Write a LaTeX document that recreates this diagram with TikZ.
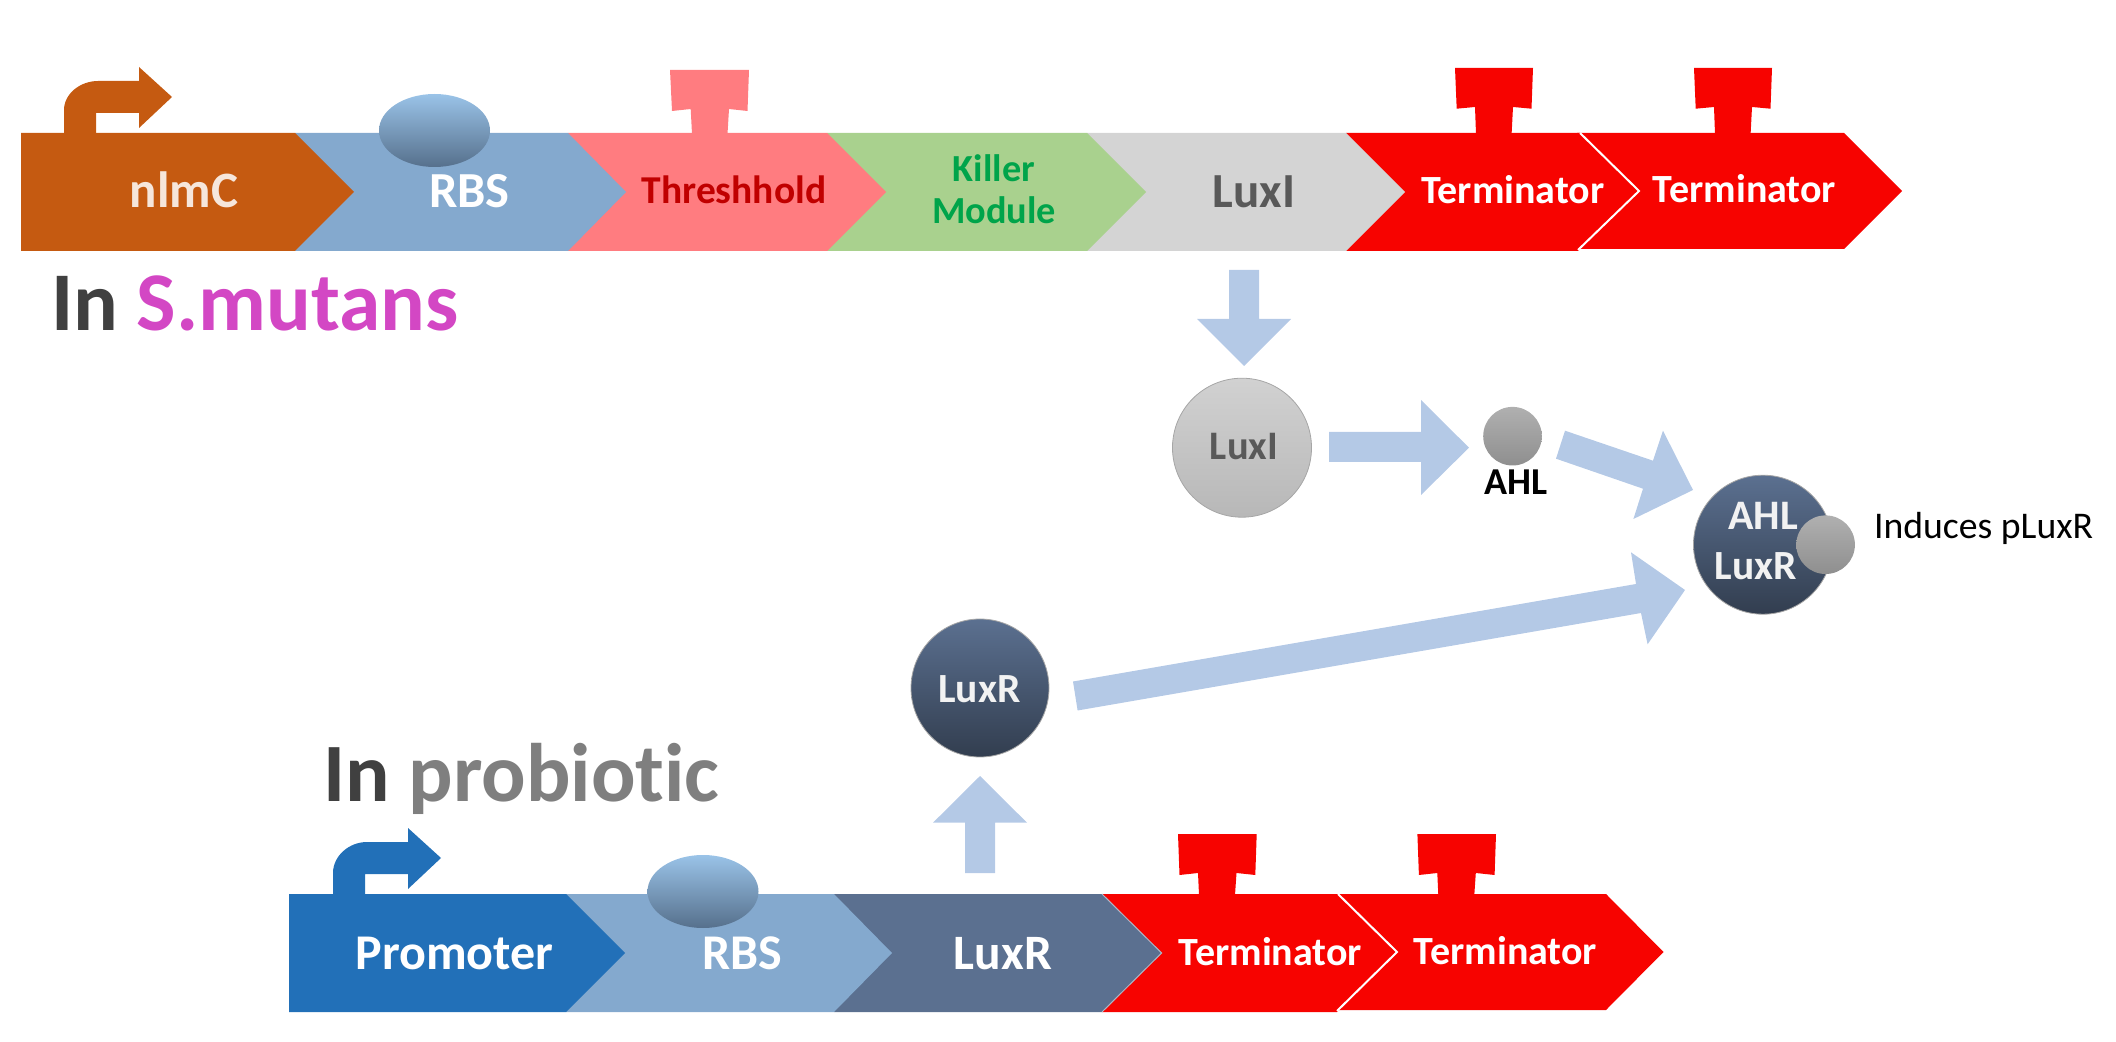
\documentclass[tikz,border=0pt]{standalone}
\usepackage{fontspec}
\usetikzlibrary{shapes.geometric}
\setmainfont[Ligatures=NoCommon]{Carlito}
\definecolor{cOrange}{HTML}{C55A11}
\definecolor{cRbs}{HTML}{84A9CE}
\definecolor{cPink}{HTML}{FF7C80}
\definecolor{cGreen}{HTML}{A9D18E}
\definecolor{cGrey}{HTML}{D4D4D4}
\definecolor{cRed}{HTML}{F70300}
\definecolor{cBlue}{HTML}{2270B8}
\definecolor{cSlate}{HTML}{5B7090}
\definecolor{cArrow}{HTML}{B4C9E6}
\definecolor{cKill}{HTML}{00A44A}
\definecolor{cThr}{HTML}{C00000}
\definecolor{cLux}{HTML}{595959}
\definecolor{cMag}{HTML}{D347C4}
\definecolor{cIn}{HTML}{404040}
\definecolor{cProb}{HTML}{7F7F7F}
\definecolor{cRiboTop}{HTML}{9AC3E8}
\definecolor{cRiboBot}{HTML}{56708C}
\newcommand{\fpx}[1]{\fontsize{\dimexpr#1pt/2\relax}{\dimexpr#1pt/2\relax}\selectfont}
\tikzset{
  lbl/.style={inner sep=0pt,outer sep=0pt,anchor=base,font=\bfseries},
  dot/.style={circle,inner sep=0pt,outer sep=0pt,minimum size=#1*0.5pt},
  dark/.style={draw=black!35!white,line width=0.4pt,top color=cSlate,bottom color=black!45!cSlate},
  lgrey/.style={draw=black!35!white,line width=0.4pt,top color=black!18,bottom color=black!28},
  mgrey/.style={top color=black!31,bottom color=black!44},
  ribo/.style={ellipse,inner sep=0pt,outer sep=0pt,minimum width=55.5pt,minimum height=36.5pt,top color=cRiboTop,bottom color=cRiboBot},
  sep/.style={draw=white,line width=1pt},
}
\begin{document}
\begin{tikzpicture}[x=0.5pt,y=-0.5pt]
\useasboundingbox (0,0) rectangle (2116,1042);
% top construct, right to left so each tip lies over the next notch
\fill[cRed] (1577,133)--(1844,133)--(1902,191)--(1844,249)--(1577,249)--cycle;
\fill[cRed] (1346,133)--(1580,133)--(1639,191)--(1578,251)--(1346,251)--cycle;
\draw[sep] (1580,133)--(1639,191)--(1578,250);
\fill[cGrey] (1087,133)--(1346,133)--(1405,192)--(1346,251)--(1087,251)--cycle;
\fill[cGreen] (827,133)--(1087,133)--(1146,192)--(1087,251)--(827,251)--cycle;
\fill[cPink] (568,133)--(827,133)--(886,192)--(827,251)--(568,251)--cycle;
\fill[cRbs] (295,133)--(568,133)--(626,192)--(568,251)--(295,251)--cycle;
\fill[cOrange] (21,133)--(295,133)--(354,192)--(295,251)--(21,251)--cycle;
% promoter arrow
\fill[cOrange] (64,134)--(64,110) .. controls (64,94) and (80,81) .. (98,81)--(139,81)--(139,67)--(172,97)--(139,128)--(139,113)--(96,113)--(96,134)--cycle;
% terminator caps
\fill[cPink] (670,70)--(749,70)--(747.5,111)--(729,109)--(727.5,134)--(692,134)--(690.7,109)--(672,111)--cycle;
\fill[cRed] (1455,68)--(1533,68)--(1531.5,108.7)--(1513,107)--(1511.6,134)--(1476,134)--(1475,107)--(1456.7,108.7)--cycle;
\fill[cRed] (1694,68)--(1772,68)--(1770.5,108.7)--(1752,107)--(1750.6,134)--(1715,134)--(1714,107)--(1695.7,108.7)--cycle;
\node[ribo] (rbsA) at (434.5,130.5) {};

% bottom construct
\fill[cRed] (1336,894)--(1606,894)--(1663.5,952)--(1606,1010)--(1336,1010)--cycle;
\fill[cRed] (1102,894)--(1338,894)--(1397,952)--(1337,1012)--(1102,1012)--cycle;
\draw[sep] (1338,894)--(1397,952)--(1337,1011);
\fill[cSlate] (834,894)--(1102,894)--(1161.6,953)--(1102,1012)--(834,1012)--cycle;
\draw[cSlate!50!white,line width=0.5pt] (1102,894)--(1161.6,953)--(1102,1012);
\fill[cRbs] (566,894)--(834,894)--(892,953)--(834,1012)--(566,1012)--cycle;
\fill[cBlue] (289,894)--(566,894)--(625,953)--(566,1012)--(289,1012)--cycle;
\fill[cBlue] (333,895)--(333,873) .. controls (333,856) and (349,842) .. (367,842)--(408,842)--(408,828)--(441,858)--(408,889)--(408,874)--(365,874)--(365,895)--cycle;
\fill[cRed] (1178,834)--(1256.7,834)--(1255.3,875)--(1236.5,873)--(1235,895)--(1199,895)--(1198,873)--(1179.5,875)--cycle;
\fill[cRed] (1417.4,834)--(1496,834)--(1494.6,875)--(1475.8,873)--(1474.3,895)--(1438.3,895)--(1437.3,873)--(1418.9,875)--cycle;
\node[ribo] (rbsB) at (703,891.5) {};

% molecules
\node[dot=139,lgrey] (luxI) at (1242,447.7) {};
\node[dot=58.6,mgrey] (ahl) at (1512.5,436.2) {};
\node[dot=139,dark] (cplx) at (1763,544.7) {};
\node[dot=58.6,mgrey] (ahlB) at (1825.6,544.7) {};
\node[dot=138,dark] (luxR) at (980,688) {};

% block arrows
\fill[cArrow] (1229,270)--(1259,270)--(1259,319)--(1291,319)--(1244,366)--(1197,319)--(1229,319)--cycle;
\fill[cArrow] (1329,432)--(1421,432)--(1421,400)--(1469,447.7)--(1421,495)--(1421,462)--(1329,462)--cycle;
\fill[cArrow] (1565,430.7)--(1653,460.7)--(1663,430.7)--(1693,490)--(1633.4,519)--(1643,488.7)--(1556,458.7)--cycle;
\fill[cArrow] (1073,681.5)--(1636,584)--(1631,552.3)--(1685,590)--(1647.6,644.3)--(1641,613)--(1077.6,710.5)--cycle;
\fill[cArrow] (965,873)--(965,822.7)--(933,822.7)--(980,776)--(1027,822.7)--(995,822.7)--(995,873)--cycle;

% labels
\node[lbl,text=cOrange!15!white] (t1) at (184,208) {\fpx{51}nlmC};
\node[lbl,text=white] (t2) at (469.5,208) {\fpx{50.5}RBS};
\node[lbl,text=cThr] (t3) at (734,203.5) {\fpx{39.5}Threshhold};
\node[lbl,text=cKill] (t4) at (994,181.5) {\fpx{38.3}Killer};
\node[lbl,text=cKill] (t5) at (994,224) {\fpx{38.3}Module};
\node[lbl,text=cLux] (t6) at (1254,208) {\fpx{49}LuxI};
\node[lbl,text=white] (t7) at (1513,204) {\fpx{40}Terminator};
\node[lbl,text=white] (t8) at (1744.5,203) {\fpx{40}Terminator};
\node[lbl,text=cIn,anchor=base west] (t9) at (51,331) {\fpx{83.5}In \textcolor{cMag}{S.mutans}};
\node[lbl,text=cLux] (t10) at (1244,460) {\fpx{40.5}LuxI};
\node[lbl,text=black] (t11) at (1515.6,495) {\fpx{38}AHL};
\node[lbl,text=black!5] (t12) at (1763,530) {\fpx{42}AHL};
\node[lbl,text=black!5] (t13) at (1756,580) {\fpx{41.5}LuxR};
\node[lbl,font=\mdseries,text=black,anchor=base west] (t14) at (1874,539) {\fpx{37.7}Induces pLuxR};
\node[lbl,text=black!5] (t15) at (979.5,702.5) {\fpx{41.5}LuxR};
\node[lbl,text=cIn,anchor=base west] (t16) at (323,801.7) {\fpx{83}In \textcolor{cProb}{probiotic}};
\node[lbl,text=white] (t17) at (454.5,969) {\fpx{50}Promoter};
\node[lbl,text=white] (t18) at (742.5,969) {\fpx{50}RBS};
\node[lbl,text=white] (t19) at (1003,969) {\fpx{49.5}LuxR};
\node[lbl,text=white] (t20) at (1270.5,965) {\fpx{40}Terminator};
\node[lbl,text=white] (t21) at (1505.5,964) {\fpx{40}Terminator};
\end{tikzpicture}
\end{document}
